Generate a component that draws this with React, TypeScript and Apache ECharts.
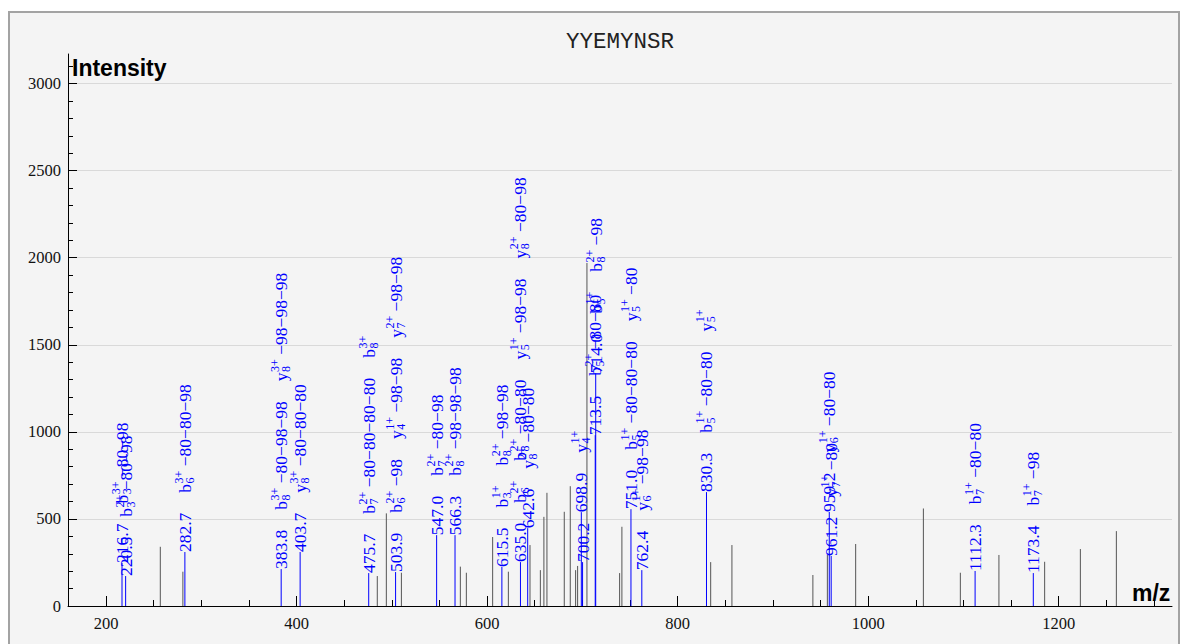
import React, { useEffect, useRef } from 'react';
import * as echarts from 'echarts';

const TITLE = 'YYEMYNSR';
const Y_NAME = 'Intensity';
const X_NAME = 'm/z';

const xMajorTicks = [200, 400, 600, 800, 1000, 1200];
const xMinorTicks = [250, 300, 350, 450, 500, 550, 650, 700, 750, 850, 900, 950, 1050, 1100, 1150, 1250, 1300];
const yMajorTicks = [0, 500, 1000, 1500, 2000, 2500, 3000];

// unannotated peaks
const grayMz = [256.9, 280.6, 484.7, 494.2, 510.0, 571.9, 578.2, 605.8, 622.3, 645.0, 655.9, 659.6, 662.8, 681.0, 687.3, 692.9, 695.0, 704.8, 739.1, 741.5, 834.7, 857.0, 942.0, 957.2, 986.9, 1058.0, 1096.8, 1137.3, 1185.3, 1222.8, 1260.6];
const grayIntensity = [340, 197, 172, 532, 191, 226, 191, 396, 197, 350, 206, 512, 650, 541, 688, 206, 230, 1970, 189, 455, 252, 350, 178, 295, 356, 560, 191, 293, 254, 327, 430];

// annotated peaks
const peakMz = [216.7, 220.5, 282.7, 383.8, 403.7, 475.7, 503.9, 547.0, 566.3, 615.5, 635.0, 642.6, 698.9, 700.2, 713.5, 714.0, 751.0, 762.4, 830.3, 959.2, 961.2, 1112.3, 1173.4];
const peakIntensity = [247, 172, 310, 212, 310, 189, 195, 407, 407, 224, 252, 447, 539, 252, 981, 1337, 556, 206, 654, 540, 287, 201, 189];
const peakAnnotations: string[][] = [
  ['b3^3+ −80−98'],
  ['b3^2+ −80−98'],
  ['b6^3+ −80−80−98'],
  ['b8^3+ −80−98−98', 'y8^3+ −98−98−98'],
  ['y8^3+ −80−80−80'],
  ['b7^2+ −80−80−80−80', 'b8^3+'],
  ['b6^2+ −98', 'y4^1+ −98−98', 'y7^2+ −98−98'],
  ['b7^2+ −80−98'],
  ['b8^2+ −98−98−98'],
  ['b3^1+', 'b8^2+ −98−98'],
  ['b6^2+', 'b8^2+ −80−80', 'y5^1+ −98−98', 'y8^2+ −80−98'],
  ['y8^2+ −80−80'],
  ['y4^1+'],
  [],
  ['b5^2+ −80−80'],
  ['b5^1+', 'b8^2+ −98'],
  ['b5^1+ −80−80−80', 'y5^1+ −80'],
  ['y6^1+ −98−98'],
  ['b5^1+ −80−80', 'y5^1+'],
  ['y6^1+ −80−80'],
  ['y7^1+ −80'],
  ['b7^1+ −80−80'],
  ['b7^1+ −98'],
];

const SERIF = '"Liberation Serif", "Times New Roman", serif';
const LABEL_SIZE = 17.5;
const SCRIPT_SIZE = 12;
const GAP = 20;
const BLUE = '#0000ff';

let measureCtx: CanvasRenderingContext2D | null = null;
function textWidth(text: string, size: number): number {
  if (!measureCtx) measureCtx = document.createElement('canvas').getContext('2d');
  if (!measureCtx) return text.length * size * 0.5;
  measureCtx.font = `${size}px ${SERIF}`;
  return measureCtx.measureText(text).width;
}

const ionRe = /^([a-z])(\d+)\^(\d+\+)\s*(.*)$/;

function buildLabel(mzText: string, anns: string[]) {
  const kids: any[] = [];
  const add = (text: string, x: number, y: number, size: number) => {
    kids.push({
      type: 'text',
      x,
      y,
      style: { text, fill: BLUE, font: `${size}px ${SERIF}`, align: 'left', verticalAlign: 'middle' },
    });
  };
  let off = 0;
  add(mzText, off, 0, LABEL_SIZE);
  off += textWidth(mzText, LABEL_SIZE) + GAP;
  anns.forEach((ann) => {
    const m = ann.match(ionRe);
    if (m) {
      add(m[1], off, 0, LABEL_SIZE);
      off += textWidth(m[1], LABEL_SIZE) + 0.5;
      add(m[3], off, -6, SCRIPT_SIZE);
      add(m[2], off, 5, SCRIPT_SIZE);
      off += Math.max(textWidth(m[3], SCRIPT_SIZE), textWidth(m[2], SCRIPT_SIZE));
      if (m[4]) {
        off += textWidth(' ', LABEL_SIZE);
        add(m[4], off, 0, LABEL_SIZE);
        off += textWidth(m[4], LABEL_SIZE);
      }
    } else {
      add(ann, off, 0, LABEL_SIZE);
      off += textWidth(ann, LABEL_SIZE);
    }
    off += GAP;
  });
  return kids;
}

const plain = (v: number) => String(v);

function buildOption() {
  const grayData = grayMz.map((m, i) => [m, grayIntensity[i]]);
  const peakData = peakMz.map((m, i) => [m, peakIntensity[i]]);
  return {
    animation: false,
    backgroundColor: 'transparent',
    grid: { left: 68, right: 8, top: 54, bottom: 38 },
    xAxis: [
      {
        type: 'value',
        min: 160,
        max: 1319,
        axisLine: { show: true, onZero: false, lineStyle: { color: '#000', width: 1 } },
        axisTick: { show: true, inside: true, length: 10, customValues: xMajorTicks, lineStyle: { color: '#000' } },
        axisLabel: { customValues: xMajorTicks, formatter: plain, fontFamily: SERIF, fontSize: 16.5, color: '#111', margin: 9 },
        splitLine: { show: false },
      },
      {
        type: 'value',
        min: 160,
        max: 1319,
        position: 'bottom',
        axisLine: { show: false },
        axisTick: { show: true, inside: true, length: 6, customValues: xMinorTicks, lineStyle: { color: '#000' } },
        axisLabel: { show: false },
        splitLine: { show: false },
      },
    ],
    yAxis: [
      {
        type: 'value',
        min: 0,
        max: 3170,
        interval: 500,
        axisLine: { show: true, lineStyle: { color: '#000', width: 1 } },
        axisTick: { show: true, inside: true, length: 9, customValues: yMajorTicks, lineStyle: { color: '#000' } },
        minorTick: { show: true, splitNumber: 5, length: 5, lineStyle: { color: '#000' } },
        axisLabel: { customValues: yMajorTicks, formatter: plain, fontFamily: SERIF, fontSize: 16.5, color: '#111', margin: 7 },
        splitLine: { show: true, lineStyle: { color: '#d9d9d9', width: 1 } },
      },
    ],
    graphic: [
      {
        type: 'text',
        x: 620,
        y: 42,
        style: { text: TITLE, font: '22.5px "Liberation Mono", monospace', fill: '#222', align: 'center', verticalAlign: 'middle' },
      },
      {
        type: 'text',
        x: 72,
        y: 68,
        style: { text: Y_NAME, font: 'bold 23px "Liberation Sans", Arial, sans-serif', fill: '#000', align: 'left', verticalAlign: 'middle' },
      },
      {
        type: 'text',
        x: 1132,
        y: 593,
        style: { text: X_NAME, font: 'bold 23px "Liberation Sans", Arial, sans-serif', fill: '#000', align: 'left', verticalAlign: 'middle' },
      },
    ],
    series: [
      {
        type: 'custom',
        name: 'peaks',
        silent: true,
        xAxisIndex: 0,
        yAxisIndex: 0,
        data: grayData,
        z: 2,
        renderItem: (params: any, api: any) => {
          const mz = api.value(0);
          const it = api.value(1);
          const p0 = api.coord([mz, 0]);
          const p1 = api.coord([mz, it]);
          return {
            type: 'line',
            shape: { x1: p0[0], y1: p0[1], x2: p1[0], y2: p1[1] },
            style: { stroke: '#555', lineWidth: 1 },
          };
        },
      },
      {
        type: 'custom',
        name: 'annotated',
        silent: true,
        xAxisIndex: 0,
        yAxisIndex: 0,
        data: peakData,
        z: 3,
        renderItem: (params: any, api: any) => {
          const i = params.dataIndex;
          const mz = api.value(0);
          const it = api.value(1);
          const p0 = api.coord([mz, 0]);
          const p1 = api.coord([mz, it]);
          return {
            type: 'group',
            children: [
              {
                type: 'line',
                shape: { x1: p0[0], y1: p0[1], x2: p1[0], y2: p1[1] },
                style: { stroke: BLUE, lineWidth: 1 },
              },
              {
                type: 'group',
                x: p1[0],
                y: p1[1],
                rotation: Math.PI / 2,
                children: buildLabel(peakMz[i].toFixed(1), peakAnnotations[i] || []),
              },
            ],
          };
        },
      },
    ],
  };
}

export default function App() {
  const ref = useRef<HTMLDivElement>(null);
  useEffect(() => {
    if (!ref.current) return;
    const chart = echarts.init(ref.current, null, { renderer: 'svg' });
    chart.setOption(buildOption() as any);
    return () => chart.dispose();
  }, []);
  return (
    <div style={{ position: 'fixed', left: 0, top: 0, width: 1180, height: 644, background: '#fff', overflow: 'hidden' }}>
      <div
        style={{
          position: 'absolute',
          left: 8,
          top: 11,
          width: 1172,
          height: 700,
          border: '2px solid #a3a3a3',
          background: '#f4f4f4',
          boxSizing: 'border-box',
        }}
      />
      <div ref={ref} style={{ position: 'absolute', left: 0, top: 0, width: 1180, height: 644 }} />
    </div>
  );
}
